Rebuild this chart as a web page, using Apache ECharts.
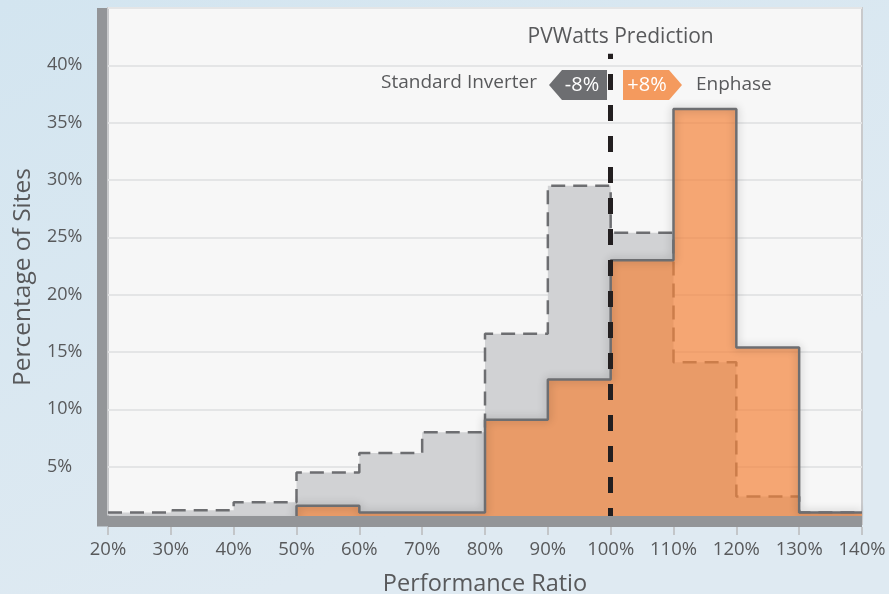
<!DOCTYPE html>
<html>
<head>
<meta charset="utf-8">
<script src="https://cdn.jsdelivr.net/npm/echarts@6/dist/echarts.min.js"></script>
<style>
  html, body { margin: 0; padding: 0; }
  #chart { width: 889px; height: 594px; }
</style>
</head>
<body>
<div id="chart"></div>
<script>
// bin left edges (performance ratio, %)
const binStarts = [20, 30, 40, 50, 60, 70, 80, 90, 100, 110, 120, 130];
const binEnd = 140;
// share of sites per bin (%)
const standardInverter = [1.0, 1.2, 1.9, 4.5, 6.2, 8.0, 16.6, 29.5, 25.4, 14.1, 2.4, 1.0];
const enphase = [0, 0, 0, 1.6, 1.0, 1.0, 9.1, 12.6, 23.0, 36.2, 15.4, 1.0];
const pvwattsAt = 100;

const font = 'Open Sans';
const textColor = '#58595b';

// step points: one per bin start plus closing point at the last edge
function toSteps(values) {
    const pts = binStarts.map((x, i) => [x, values[i]]);
    pts.push([binEnd, values[values.length - 1]]);
    return pts;
}

const myChart = echarts.init(document.getElementById('chart'));

const option = {
    animation: false,
    backgroundColor: {
        type: 'linear', x: 0, y: 0, x2: 0.3, y2: 1,
        colorStops: [
            {offset: 0, color: '#d3e5f0'},
            {offset: 1, color: '#dfeaf2'}
        ]
    },
    textStyle: {fontFamily: font},
    grid: {
        left: 108, right: 27, top: 8, bottom: 70,
        show: true,
        backgroundColor: '#f7f7f7',
        borderColor: '#c9cacc',
        borderWidth: 2,
        outerBoundsMode: 'none'
    },
    xAxis: [
        {
            // thick bottom bar, drawn over the series
            type: 'value', min: 20, max: 140, interval: 10,
            position: 'bottom', offset: -3, z: 10,
            axisLine: {show: true, lineStyle: {color: '#939598', width: 11, cap: 'butt'}},
            axisTick: {show: false},
            axisLabel: {show: false},
            splitLine: {show: false}
        },
        {
            type: 'value', min: 20, max: 140, interval: 10,
            position: 'bottom', offset: 3,
            name: 'Performance Ratio',
            nameLocation: 'middle',
            nameGap: 45,
            nameTextStyle: {fontFamily: font, fontSize: 23.5, color: textColor},
            axisLine: {show: false},
            axisTick: {show: true, length: 8, lineStyle: {color: '#c3c6c9', width: 2}},
            axisLabel: {
                fontFamily: font, fontSize: 18.5, color: textColor, margin: 13,
                showMinLabel: true, showMaxLabel: true,
                formatter: v => v + '%'
            },
            splitLine: {show: false}
        }
    ],
    yAxis: {
        type: 'value', min: 0, max: 45, interval: 5,
        position: 'left', offset: 6,
        name: 'Percentage of Sites',
        nameLocation: 'middle',
        nameGap: 66,
        nameTextStyle: {fontFamily: font, fontSize: 24.5, color: textColor, padding: [0, 22, 0, 0]},
        axisLine: {show: true, lineStyle: {color: '#939598', width: 10, cap: 'butt'}},
        axisTick: {show: false},
        axisLabel: {
            fontFamily: font, fontSize: 18, color: textColor,
            align: 'left', margin: 55,
            formatter: v => (v === 0 || v === 45) ? '' : v + '%'
        },
        splitLine: {lineStyle: {color: '#e4e5e6', width: 2}}
    },
    series: [
        {
            name: 'Standard Inverter',
            type: 'line',
            xAxisIndex: 0,
            step: 'end',
            symbol: 'none',
            data: toSteps(standardInverter),
            lineStyle: {color: '#6d6e71', width: 2.5, type: [14, 8]},
            areaStyle: {color: '#d1d2d4', opacity: 1},
            z: 2
        },
        {
            name: 'Enphase',
            type: 'line',
            xAxisIndex: 0,
            step: 'end',
            symbol: 'none',
            data: toSteps(enphase),
            lineStyle: {
                color: '#6d6e71', width: 2.5,
                shadowColor: 'rgba(0,0,0,0.3)', shadowBlur: 8
            },
            areaStyle: {color: 'rgba(243,131,58,0.7)', opacity: 1},
            z: 3,
            markLine: {
                silent: true,
                symbol: ['none', 'none'],
                z: 6,
                lineStyle: {color: '#231f20', width: 5, type: [16, 15]},
                label: {
                    show: true, position: 'end', distance: 6, offset: [10, 0],
                    formatter: 'PVWatts Prediction',
                    fontFamily: font, fontSize: 21, color: textColor
                },
                data: [[{coord: [pvwattsAt, 0]}, {coord: [pvwattsAt, 41]}]]
            }
        }
    ],
    graphic: [
        {
            type: 'text', right: 889 - 537, top: 73, z: 20,
            style: {text: 'Standard Inverter', font: '19px "Open Sans"', fill: textColor}
        },
        {
            type: 'polygon', z: 20,
            shape: {points: [[549, 85], [562, 70], [607, 70], [607, 100], [562, 100]]},
            style: {fill: '#6d6e71'}
        },
        {
            type: 'text', x: 582, y: 85, z: 21,
            style: {text: '-8%', font: '20px "Open Sans"', fill: '#ffffff', align: 'center', verticalAlign: 'middle'}
        },
        {
            type: 'polygon', z: 20,
            shape: {points: [[623, 70], [669, 70], [682, 85], [669, 100], [623, 100]]},
            style: {fill: '#f49a5e'}
        },
        {
            type: 'text', x: 647, y: 85, z: 21,
            style: {text: '+8%', font: '20px "Open Sans"', fill: '#ffffff', align: 'center', verticalAlign: 'middle'}
        },
        {
            type: 'text', x: 696, y: 85, z: 20,
            style: {text: 'Enphase', font: '19px "Open Sans"', fill: textColor, verticalAlign: 'middle'}
        },
        {
            // corner joint where the two axis bars meet
            type: 'rect', z: 20,
            shape: {x: 97, y: 515.5, width: 12, height: 11},
            style: {fill: '#939598'}
        }
    ]
};

myChart.setOption(option);
</script>
</body>
</html>
